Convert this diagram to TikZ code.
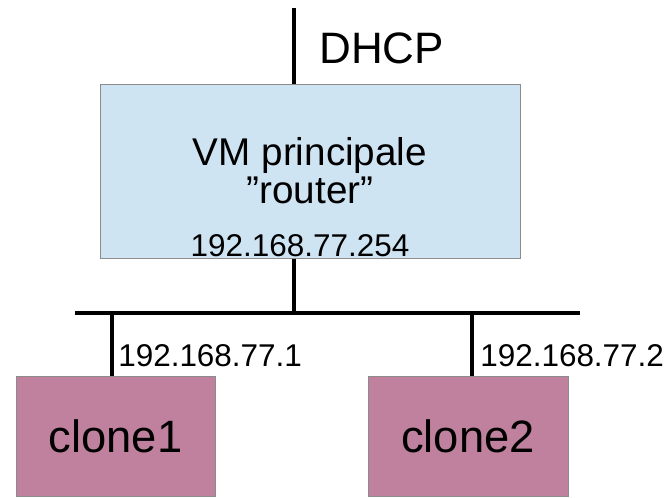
\documentclass[tikz,border=0pt]{standalone}
\usepackage{fontspec}
\setmainfont{Liberation Sans}
\usetikzlibrary{positioning}

\definecolor{routerblue}{RGB}{207,228,243}
\definecolor{clonepink}{RGB}{191,129,158}
\definecolor{boxedge}{RGB}{140,140,140}

\begin{document}
\begin{tikzpicture}[x=0.75pt,y=-0.75pt]
    \useasboundingbox (0,0) rectangle (670,497);

    \begin{scope}[every node/.style={draw=boxedge,line width=0.75pt,inner sep=0pt}]
        \node[fill=routerblue,minimum width=315pt,minimum height=130.5pt,
              align=center,font=\fontsize{29}{28.5}\selectfont] (router) at (310,171)
            {VM principale\\”router”};
        \node[fill=clonepink,minimum width=149.25pt,minimum height=90pt,
              font=\fontsize{34}{40}\selectfont] (clone1) at (115.5,436) {clone1};
        \node[fill=clonepink,minimum width=150pt,minimum height=90pt,
              font=\fontsize{34}{40}\selectfont] (clone2) at (468,436) {clone2};
    \end{scope}

    \coordinate (dhcp) at (294,8);
    \coordinate (hub) at (294,313);
    \coordinate (busL) at (75,313);
    \coordinate (busR) at (580,313);
    \coordinate (tap1) at (112,313);
    \coordinate (tap2) at (472,313);

    \begin{scope}[every node/.style={inner sep=0pt}]
        \node[anchor=base west,font=\fontsize{33}{38}\selectfont] (dhcplabel) at (319,63) {DHCP};
        \node[anchor=base,font=\fontsize{23.6}{28}\selectfont] (routerip) at (300,256) {192.168.77.254};
        \node[anchor=base west,font=\fontsize{23.6}{28}\selectfont] (ip1) at (118,366) {192.168.77.1};
        \node[anchor=base west,font=\fontsize{23.6}{28}\selectfont] (ip2) at (480,366) {192.168.77.2};
    \end{scope}

    \begin{scope}[every edge/.style={draw=black,line width=3pt}]
        \path (dhcp) edge (dhcp |- router.north);
        \path (hub |- router.south) edge (hub);
        \path (busL) edge (busR);
        \path (tap1) edge (tap1 |- clone1.north);
        \path (tap2) edge (tap2 |- clone2.north);
    \end{scope}
\end{tikzpicture}
\end{document}
